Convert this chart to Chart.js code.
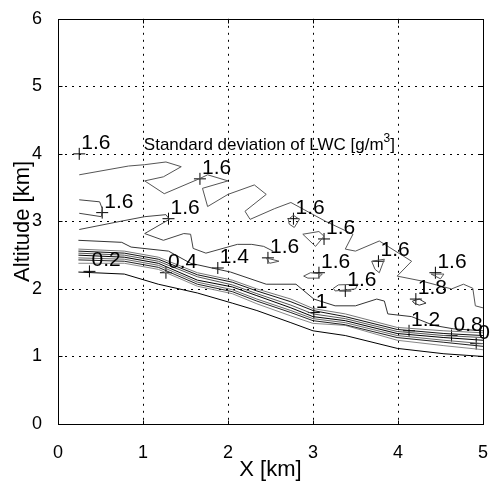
<!DOCTYPE html>
<html lang="en">
<head>
<meta charset="UTF-8">
<title>Standard deviation of LWC</title>
<script src="https://cdn.jsdelivr.net/npm/chart.js"></script>
<style>
    body {
        margin: 0;
        padding: 0;
        background-color: white;
    }
    canvas {
        display: block;
    }
</style>
</head>
<body>
<canvas id="myChart" width="498" height="486"></canvas>
<script>
    // axis ticks (km)
    const xTicks = [0, 1, 2, 3, 4, 5];
    const yTicks = [0, 1, 2, 3, 4, 5, 6];

    // contour lines, [x km, altitude km]
    const band0 = [[0.24, 2.25], [0.78, 2.22], [1.18, 2.07], [1.64, 1.94], [2.05, 1.79], [2.34, 1.68], [2.74, 1.50], [3.00, 1.38], [3.38, 1.31], [3.99, 1.12], [4.54, 1.04], [5.00, 1.00]];
    const band1 = [[0.24, 2.59], [0.78, 2.56], [1.18, 2.47], [1.64, 2.24], [2.05, 2.13], [2.34, 2.00], [2.74, 1.85], [3.00, 1.71], [3.38, 1.63], [3.99, 1.43], [4.54, 1.38], [5.00, 1.35]];
    const band2 = [[0.24, 2.56], [0.78, 2.53], [1.18, 2.44], [1.64, 2.21], [2.05, 2.10], [2.34, 1.97], [2.74, 1.81], [3.00, 1.68], [3.38, 1.59], [3.99, 1.40], [4.54, 1.34], [5.00, 1.31]];
    const band3 = [[0.24, 2.53], [0.78, 2.50], [1.18, 2.41], [1.64, 2.18], [2.05, 2.06], [2.34, 1.93], [2.74, 1.76], [3.00, 1.63], [3.38, 1.56], [3.99, 1.37], [4.54, 1.31], [5.00, 1.28]];
    const band4 = [[0.24, 2.50], [0.78, 2.47], [1.18, 2.38], [1.64, 2.13], [2.05, 2.03], [2.34, 1.90], [2.74, 1.72], [3.00, 1.59], [3.38, 1.53], [3.99, 1.34], [4.54, 1.28], [5.00, 1.24]];
    const band5 = [[0.24, 2.46], [0.78, 2.44], [1.18, 2.35], [1.64, 2.10], [2.05, 1.99], [2.34, 1.85], [2.74, 1.68], [3.00, 1.56], [3.38, 1.50], [3.99, 1.31], [4.54, 1.24], [5.00, 1.19]];
    const band6 = [[0.24, 2.43], [0.78, 2.41], [1.18, 2.32], [1.64, 2.07], [2.05, 1.96], [2.34, 1.82], [2.74, 1.65], [3.00, 1.53], [3.38, 1.47], [3.99, 1.28], [4.54, 1.21], [5.00, 1.15]];
    const band7 = [[0.24, 2.38], [0.78, 2.38], [1.18, 2.29], [1.64, 2.04], [2.05, 1.93], [2.34, 1.78], [2.74, 1.60], [3.00, 1.49], [3.38, 1.46], [3.99, 1.24], [4.54, 1.16], [5.00, 1.10]];
    const line14 = [[0.24, 2.72], [0.75, 2.69], [0.86, 2.62], [1.30, 2.56], [1.56, 2.38], [2.03, 2.25], [2.45, 2.07], [2.80, 2.07], [3.01, 1.85], [3.26, 1.75], [3.50, 1.75], [3.75, 1.85], [3.84, 1.82], [3.88, 1.63], [4.16, 1.59], [4.42, 1.46], [4.65, 1.41], [5.00, 1.38]];
    const upper16 = [[0.25, 3.69], [0.83, 3.82], [1.02, 3.84], [1.27, 3.88], [1.45, 3.81], [1.24, 3.66], [1.02, 3.60], [1.25, 3.41], [1.66, 3.63], [1.76, 3.69], [2.00, 3.60], [1.70, 3.49], [1.76, 3.22], [2.00, 3.40], [2.31, 3.54], [2.45, 3.40], [2.20, 3.15], [2.26, 3.03], [2.55, 3.19], [2.74, 3.28], [3.15, 3.00], [3.47, 2.81], [3.38, 2.59], [3.50, 2.56], [3.78, 2.71], [4.16, 2.41], [3.99, 2.19], [4.27, 2.12], [4.63, 2.00], [4.77, 2.07], [4.88, 2.01], [4.91, 1.75], [5.00, 1.72]];
    const middle16 = [[0.25, 2.88], [0.73, 3.00], [1.02, 3.07], [1.27, 3.10], [1.31, 3.03], [1.02, 2.82], [1.24, 2.72], [1.48, 2.82], [1.56, 2.81], [1.59, 2.60], [1.74, 2.53], [2.11, 2.66], [2.28, 2.66], [2.42, 2.63], [2.53, 2.56]];
    const left16 = [[0.25, 3.32], [0.49, 3.29], [0.52, 3.19], [0.51, 3.07], [0.25, 3.12]];
    const island1 = [[2.71, 3.03], [2.77, 3.09], [2.84, 3.03], [2.78, 2.91], [2.72, 2.96], [2.71, 3.03]];
    const island2 = [[2.88, 2.81], [3.07, 2.85], [3.13, 2.78], [3.03, 2.63], [2.88, 2.81]];
    const island3 = [[2.45, 2.46], [2.60, 2.41], [2.49, 2.38], [2.45, 2.46]];
    const island4 = [[2.89, 2.19], [2.97, 2.24], [3.11, 2.22], [3.06, 2.16], [2.94, 2.16], [2.89, 2.19]];
    const island5 = [[3.24, 2.01], [3.30, 2.06], [3.53, 2.07], [3.50, 2.00], [3.26, 1.97], [3.24, 2.01]];
    const island6 = [[3.69, 2.41], [3.84, 2.44], [3.78, 2.24], [3.73, 2.29], [3.69, 2.41]];
    const island7 = [[4.39, 2.22], [4.54, 2.22], [4.50, 2.15], [4.39, 2.22]];
    const island8 = [[4.17, 1.82], [4.25, 1.85], [4.33, 1.79], [4.25, 1.76], [4.19, 1.79], [4.17, 1.82]];

    // contour labels (clabel style: "+" at the point, value next to it)
    const labelText = ['1.6', '1.6', '1.6', '1.6', '0.2', '0.4', '1.4', '1.6', '1.6', '1.6', '1.6', '1.6', '1.6', '1.6', '1.8', '1', '1.2', '0.8', '0'];
    const labelX = [0.25, 1.67, 0.52, 1.30, 0.37, 1.27, 1.88, 2.47, 2.77, 3.13, 3.07, 3.38, 3.77, 4.44, 4.21, 3.01, 4.13, 4.63, 4.92];
    const labelY = [4.00, 3.63, 3.13, 3.04, 2.26, 2.24, 2.31, 2.46, 3.04, 2.74, 2.24, 1.97, 2.41, 2.24, 1.85, 1.65, 1.38, 1.31, 1.19];

    const lines = [band0, band1, band2, band3, band4, band5, band6, band7, line14, upper16, middle16, left16,
        island1, island2, island3, island4, island5, island6, island7, island8];
    const lineColors = ['#000', '#777', '#111', '#555', '#000', '#666', '#222', '#888', '#333', '#555', '#444', '#444',
        '#555', '#555', '#555', '#555', '#555', '#555', '#555', '#333'];

    const FONT = 'Liberation Sans, Arial, Helvetica, sans-serif';

    const datasets = lines.map((pts, i) => ({
        data: pts.map(p => ({ x: p[0], y: p[1] })),
        showLine: true,
        borderColor: lineColors[i],
        borderWidth: 1,
        pointRadius: 0,
        tension: 0,
        fill: false
    }));

    datasets.push({
        data: labelX.map((x, i) => ({ x: x, y: labelY[i] })),
        showLine: false,
        pointStyle: 'cross',
        pointRadius: 6,
        borderColor: '#000',
        borderWidth: 1,
        clip: false
    });

    // dotted grid, box and inward ticks (MATLAB look)
    const frame = {
        id: 'frame',
        beforeDatasetsDraw(chart) {
            const { ctx, chartArea: a, scales: { x, y } } = chart;
            ctx.save();
            ctx.strokeStyle = '#000';
            ctx.lineWidth = 1;
            ctx.setLineDash([2, 5]);
            xTicks.slice(1, -1).forEach(v => {
                const px = Math.round(x.getPixelForValue(v)) + 0.5;
                ctx.beginPath(); ctx.moveTo(px, a.top); ctx.lineTo(px, a.bottom); ctx.stroke();
            });
            yTicks.slice(1, -1).forEach(v => {
                const py = Math.round(y.getPixelForValue(v)) + 0.5;
                ctx.beginPath(); ctx.moveTo(a.left, py); ctx.lineTo(a.right, py); ctx.stroke();
            });
            ctx.setLineDash([]);
            const l = Math.round(a.left) + 0.5, r = Math.round(a.right) + 0.5;
            const t = Math.round(a.top) + 0.5, b = Math.round(a.bottom) + 0.5;
            ctx.strokeRect(l, t, r - l, b - t);
            ctx.beginPath();
            xTicks.forEach(v => {
                const px = Math.round(x.getPixelForValue(v)) + 0.5;
                ctx.moveTo(px, b); ctx.lineTo(px, b - 4);
                ctx.moveTo(px, t); ctx.lineTo(px, t + 4);
            });
            yTicks.forEach(v => {
                const py = Math.round(y.getPixelForValue(v)) + 0.5;
                ctx.moveTo(l, py); ctx.lineTo(l + 4, py);
                ctx.moveTo(r, py); ctx.lineTo(r - 4, py);
            });
            ctx.stroke();
            ctx.restore();
        },
        afterDatasetsDraw(chart) {
            const { ctx, scales: { x, y } } = chart;
            ctx.save();
            ctx.fillStyle = '#000';
            ctx.textAlign = 'left';
            ctx.textBaseline = 'alphabetic';
            ctx.font = '21px ' + FONT;
            labelText.forEach((txt, i) => {
                ctx.fillText(txt, x.getPixelForValue(labelX[i]) + 2, y.getPixelForValue(labelY[i]) - 5);
            });
            // in-plot title with superscript
            let tx = x.getPixelForValue(1.01);
            const ty = y.getPixelForValue(4.06);
            ctx.font = '17px ' + FONT;
            const main = 'Standard deviation of LWC [g/m';
            ctx.fillText(main, tx, ty);
            tx += ctx.measureText(main).width;
            ctx.font = '12px ' + FONT;
            ctx.fillText('3', tx, ty - 8);
            tx += ctx.measureText('3').width;
            ctx.font = '17px ' + FONT;
            ctx.fillText(']', tx, ty);
            ctx.restore();
        }
    };

    new Chart(document.getElementById('myChart'), {
        type: 'scatter',
        data: { datasets: datasets },
        options: {
            responsive: false,
            animation: false,
            layout: { padding: { top: 16, right: 8, left: 0, bottom: 0 } },
            plugins: {
                legend: { display: false },
                tooltip: { enabled: false }
            },
            scales: {
                x: {
                    type: 'linear',
                    min: 0,
                    max: 5,
                    afterFit: s => { s.height = 62; },
                    afterBuildTicks: s => { s.ticks = xTicks.map(v => ({ value: v })); },
                    grid: { display: false },
                    border: { display: false },
                    ticks: { color: '#000', padding: 10, font: { family: FONT, size: 18 } },
                    title: {
                        display: true,
                        text: 'X [km]',
                        color: '#000',
                        font: { family: FONT, size: 22 },
                        padding: { top: 0, bottom: 3 }
                    }
                },
                y: {
                    type: 'linear',
                    min: 0,
                    max: 6,
                    afterFit: s => { s.width = 58; },
                    afterBuildTicks: s => { s.ticks = yTicks.map(v => ({ value: v })); },
                    grid: { display: false },
                    border: { display: false },
                    ticks: { color: '#000', padding: 8, font: { family: FONT, size: 18 } },
                    title: {
                        display: true,
                        text: 'Altitude [km]',
                        color: '#000',
                        font: { family: FONT, size: 22 },
                        padding: { top: 10, bottom: 0 }
                    }
                }
            }
        },
        plugins: [frame]
    });
</script>
</body>
</html>
